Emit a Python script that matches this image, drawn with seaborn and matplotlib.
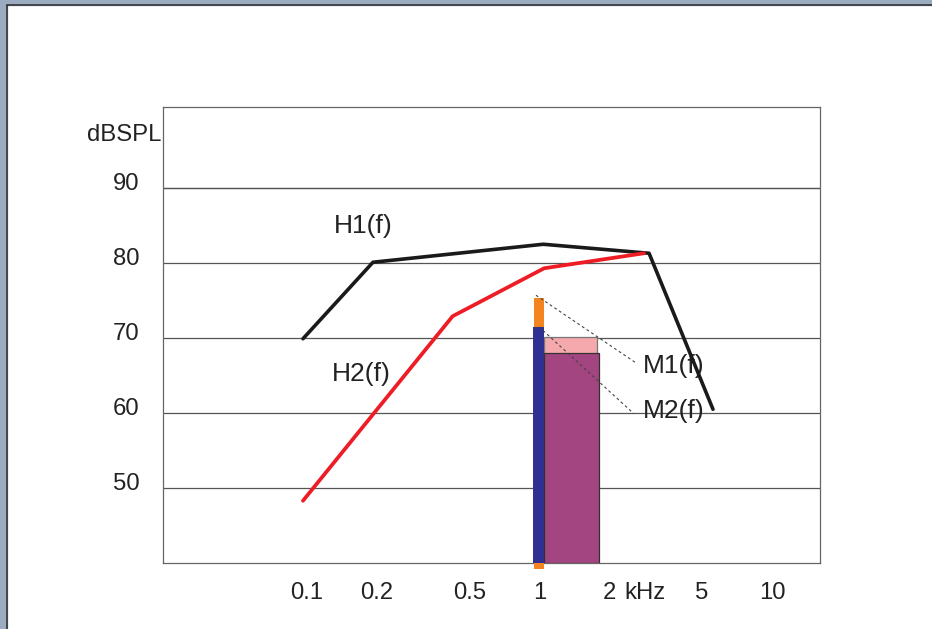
import numpy as np
import pandas as pd
import seaborn as sns
import matplotlib.pyplot as plt
import matplotlib.transforms as mtransforms
from matplotlib.patches import Rectangle

# transfer curves (kHz, dBSPL)
h1_freq = [0.1, 0.2, 1.08, 3.08, 5.8]
h1_db = [69.9, 80.1, 82.5, 81.3, 60.5]
h2_freq = [0.1, 0.44, 1.09, 2.93]
h2_db = [48.3, 72.9, 79.3, 81.3]

# masker bars: (left kHz, right kHz, bottom dB, top dB)
orange_bar = [0.985, 1.09, 39.2, 75.4]
blue_bar = [0.978, 1.09, 40.0, 71.5]
pink_bar = [1.09, 1.845, 40.0, 70.2]
purple_bar = [1.09, 1.88, 40.0, 68.0]

# dotted leader lines
m1_lead_freq = [1.005, 2.7]
m1_lead_db = [75.7, 66.7]
m2_lead_freq = [1.035, 2.65]
m2_lead_db = [71.5, 59.9]

x_ticks = [0.1, 0.2, 0.5, 1, 2, 5, 10]
x_labels = ['0.1', '0.2', '0.5', '1', '2', '5', '10']
y_ticks = [50, 60, 70, 80, 90]
y_labels = ['50', '60', '70', '80', '90']

sns.set_style('white')
plt.rcParams['font.family'] = ['Liberation Sans', 'DejaVu Sans']

FS = 17.2      # tick labels
FS_LAB = 19    # curve labels
fig = plt.figure(figsize=(9.32, 6.29), dpi=100)
ax = fig.add_axes([163 / 932, 66 / 629, 657 / 932, 456 / 629])
ax.set_xscale('log')
ax.set_xlim(0.025, 16.74)
ax.set_ylim(40, 100.8)

# horizontal grid
for y in y_ticks + [90]:
    ax.axhline(y, color='#555555', lw=0.9, zorder=1)

sns.lineplot(x=h1_freq, y=h1_db, sort=False, color='#1a1a1a', lw=2.6, ax=ax, zorder=3)
sns.lineplot(x=h2_freq, y=h2_db, sort=False, color='#ee1c25', lw=2.7, ax=ax, zorder=4)

def draw_bar(b, color, edge=None, z=5, clip=True):
    ax.bar(b[0], b[3] - b[2], width=b[1] - b[0], bottom=b[2], align='edge',
           color=color, edgecolor=edge if edge else color,
           linewidth=0.9 if edge else 0, zorder=z, clip_on=clip)

draw_bar(orange_bar, '#f48420', z=5, clip=False)
draw_bar(blue_bar, '#2e3192', z=6)
draw_bar(pink_bar, '#f5a9ac', edge='#777777', z=5)
draw_bar(purple_bar, '#a24580', edge='#333333', z=6)

ax.plot(m1_lead_freq, m1_lead_db, color='#444444', lw=0.8, ls=(0, (2.5, 2.5)), zorder=7)
ax.plot(m2_lead_freq, m2_lead_db, color='#444444', lw=0.8, ls=(0, (2.5, 2.5)), zorder=7)

ax.text(0.181, 84.9, 'H1(f)', fontsize=FS_LAB, ha='center', va='center', color='#222222')
ax.text(0.178, 65.2, 'H2(f)', fontsize=FS_LAB, ha='center', va='center', color='#222222')
ax.text(3.94, 66.3, 'M1(f)', fontsize=FS_LAB, ha='center', va='center', zorder=2, color='#222222')
ax.text(3.94, 60.3, 'M2(f)', fontsize=FS_LAB, ha='center', va='center', zorder=2, color='#222222')

ax.set_xticks(x_ticks)
ax.set_xticklabels(x_labels, fontsize=FS)
ax.minorticks_off()
ax.tick_params(axis='x', direction='in', length=7.5, width=0.9, color='#555555',
               pad=14, labelcolor='#222222')
xshift = mtransforms.ScaledTranslation(4 / 100, 0, fig.dpi_scale_trans)
for lab in ax.get_xticklabels():
    lab.set_transform(lab.get_transform() + xshift)
ax.set_yticks(y_ticks)
ax.set_yticklabels(y_labels, fontsize=FS)
ax.tick_params(axis='y', length=0, pad=17, labelcolor='#222222')
shift = mtransforms.ScaledTranslation(0, 6 / 100, fig.dpi_scale_trans)
for lab in ax.get_yticklabels():
    lab.set_transform(lab.get_transform() + shift)

ax.text(2.96, -0.066, 'kHz', transform=ax.get_xaxis_transform(), fontsize=FS,
        ha='center', va='center', color='#222222')
ax.text(-0.003, 0.9386, 'dBSPL', transform=ax.transAxes, fontsize=FS,
        ha='right', va='center', color='#222222')

for s in ax.spines.values():
    s.set_color('#666666')
    s.set_linewidth(0.9)

# window frame
fig.patches.append(Rectangle((0, 1 - 4.5 / 629), 1, 4.5 / 629, transform=fig.transFigure,
                             color='#9bacc0', zorder=0))
fig.patches.append(Rectangle((0, 0), 6.7 / 932, 1, transform=fig.transFigure,
                             color='#9bacc0', zorder=0))
fig.lines.append(plt.Line2D([6.7 / 932, 1], [1 - 5.2 / 629] * 2, transform=fig.transFigure,
                            color='#2a2a2a', lw=1.1))
fig.lines.append(plt.Line2D([7.2 / 932] * 2, [0, 1 - 5 / 629], transform=fig.transFigure,
                            color='#2a2a2a', lw=1.1))

fig.savefig('out.png', dpi=100)
